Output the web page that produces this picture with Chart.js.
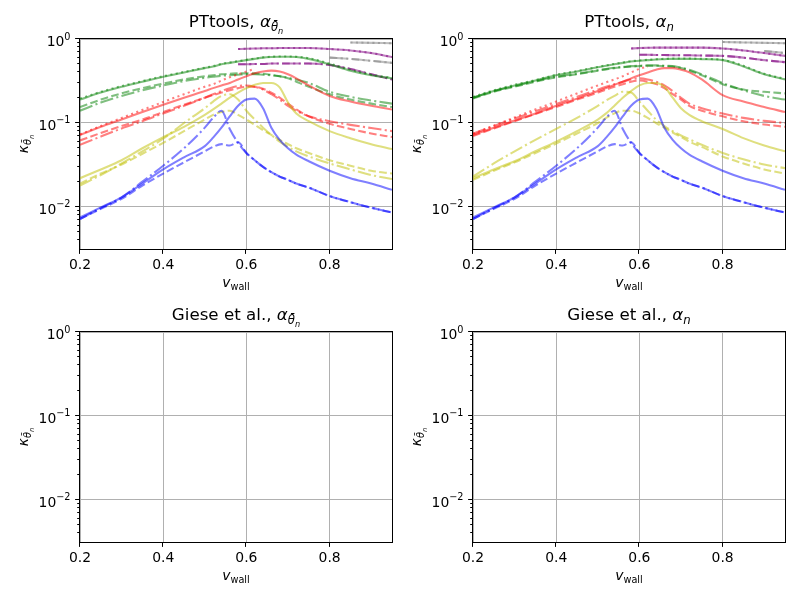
<!DOCTYPE html>
<html>
<head>
<meta charset="utf-8">
<script src="https://cdn.jsdelivr.net/npm/chart.js@4.4.0/dist/chart.umd.min.js"></script>
<style>
  body { margin: 0; background: #fff; width: 800px; height: 600px; overflow: hidden; position: relative; }
  canvas { position: absolute; }
</style>
</head>
<body>
<canvas id="tl" width="400" height="300" style="left:0;top:0"></canvas>
<canvas id="tr" width="400" height="300" style="left:400px;top:0"></canvas>
<canvas id="bl" width="400" height="300" style="left:0;top:300px"></canvas>
<canvas id="br" width="400" height="300" style="left:400px;top:300px"></canvas>
<script>
// ---- data ----
const V_WALL = [0.2,0.25,0.3,0.35,0.4,0.45,0.5,0.52,0.54,0.56,0.58,0.6,0.62,0.64,0.66,0.68,0.7,0.72,0.75,0.8,0.85,0.9,0.95];
const X_TICKS = [0.2, 0.4, 0.6, 0.8];
const Y_MAJOR = [0.01, 0.1, 1];
const Y_MINOR = [0.004,0.005,0.006,0.007,0.008,0.009,0.02,0.03,0.04,0.05,0.06,0.07,0.08,0.09,0.2,0.3,0.4,0.5,0.6,0.7,0.8,0.9];
const N = null;

// PTtools, alpha_thetabar_n
const blueSolidT   = [0.0075,0.0099,0.013,0.019,0.028,0.039,0.053,0.067,0.088,0.12,0.16,0.19,0.195,0.15,0.088,0.063,0.05,0.042,0.035,0.027,0.022,0.019,0.016];
const blueDashT    = [0.0072,0.0095,0.0125,0.018,0.025,0.034,0.046,0.052,0.056,0.054,0.059,0.044,0.036,0.03,0.026,0.023,0.021,0.019,0.017,0.0135,0.0114,0.0098,0.0086];
const blueDashDotT = [0.0072,0.0097,0.013,0.02,0.031,0.05,0.088,0.115,0.14,0.085,0.058,0.044,0.036,0.03,0.026,0.023,0.021,0.019,0.017,0.0135,0.0114,0.0098,0.0086];
const yelSolidT    = [0.022,0.028,0.036,0.05,0.068,0.09,0.125,0.145,0.17,0.2,0.23,0.26,0.285,0.3,0.3,0.265,0.175,0.13,0.105,0.08,0.066,0.056,0.049];
const yelDashT     = [0.019,0.025,0.032,0.043,0.058,0.08,0.11,0.125,0.135,0.14,0.125,0.11,0.095,0.082,0.072,0.063,0.056,0.05,0.044,0.036,0.031,0.027,0.025];
const yelDashDotT  = [0.018,0.024,0.033,0.046,0.065,0.1,0.15,0.18,0.21,0.22,0.19,0.14,0.11,0.088,0.072,0.06,0.052,0.046,0.04,0.033,0.028,0.024,0.0215];
const redSolidT    = [0.072,0.09,0.11,0.135,0.165,0.2,0.24,0.26,0.28,0.3,0.33,0.36,0.39,0.41,0.42,0.41,0.38,0.34,0.28,0.21,0.18,0.16,0.145];
const redDotT      = [0.073,0.092,0.115,0.143,0.178,0.22,0.27,0.29,0.32,0.35,0.38,0.41,0.44,N,N,N,N,N,N,N,N,N,N];
const redDashT     = [0.062,0.076,0.092,0.11,0.135,0.165,0.2,0.215,0.23,0.245,0.26,0.27,0.27,0.255,0.23,0.2,0.17,0.145,0.12,0.098,0.085,0.075,0.068];
const redDashDotT  = [0.055,0.069,0.086,0.105,0.13,0.16,0.2,0.22,0.24,0.26,0.275,0.28,0.27,0.25,0.22,0.19,0.16,0.14,0.12,0.105,0.095,0.087,0.08];
const grnSolidT    = [0.19,0.23,0.27,0.31,0.355,0.4,0.45,0.47,0.5,0.52,0.54,0.56,0.58,0.6,0.61,0.615,0.615,0.61,0.58,0.5,0.42,0.37,0.34];
const grnDotT      = [0.195,0.235,0.275,0.315,0.36,0.405,0.455,0.475,0.505,0.525,0.545,0.565,0.585,0.605,0.615,0.62,0.62,0.615,0.59,0.51,0.43,0.375,0.345];
const grnDashT     = [0.155,0.19,0.225,0.26,0.295,0.33,0.36,0.37,0.38,0.385,0.39,0.39,0.39,0.385,0.375,0.36,0.34,0.31,0.27,0.22,0.19,0.17,0.155];
const grnDashDotT  = [0.14,0.175,0.21,0.245,0.28,0.315,0.345,0.355,0.365,0.37,0.375,0.38,0.38,0.375,0.37,0.36,0.345,0.33,0.3,0.235,0.205,0.185,0.17];
const purTopT      = [N,N,N,N,N,N,N,N,N,N,0.76,0.765,0.77,0.775,0.775,0.78,0.78,0.78,0.78,0.76,0.73,0.68,0.61];
const purLowT      = [N,N,N,N,N,N,N,N,N,N,0.5,0.5,0.505,0.505,0.51,0.51,0.51,0.51,0.51,0.49,0.44,0.38,0.33];
const gryTopT      = [N,N,N,N,N,N,N,N,N,N,N,N,N,N,N,N,N,N,N,N,0.91,0.9,0.89];
const gryLowT      = [N,N,N,N,N,N,N,N,N,N,N,N,N,N,N,N,N,N,N,0.6,0.58,0.55,0.52];

// PTtools, alpha_n
const blueSolidN   = [0.0075,0.0099,0.013,0.019,0.028,0.039,0.053,0.067,0.088,0.12,0.16,0.19,0.195,0.15,0.088,0.063,0.05,0.042,0.035,0.027,0.022,0.019,0.016];
const blueDashN    = [0.0072,0.0095,0.0125,0.018,0.025,0.034,0.046,0.052,0.056,0.054,0.059,0.044,0.036,0.03,0.026,0.023,0.021,0.019,0.017,0.0135,0.0114,0.0098,0.0086];
const blueDashDotN = [0.0072,0.0097,0.013,0.02,0.031,0.05,0.088,0.115,0.14,0.085,0.058,0.044,0.036,0.03,0.026,0.023,0.021,0.019,0.017,0.0135,0.0114,0.0098,0.0086];
const yelSolidN    = [0.022,0.028,0.035,0.046,0.06,0.08,0.11,0.13,0.16,0.2,0.24,0.28,0.3,0.3,0.27,0.2,0.15,0.125,0.105,0.085,0.066,0.054,0.046];
const yelDashN     = [0.021,0.027,0.034,0.044,0.057,0.075,0.1,0.115,0.13,0.14,0.14,0.13,0.115,0.1,0.088,0.077,0.068,0.06,0.052,0.04,0.033,0.028,0.025];
const yelDashDotN  = [0.023,0.033,0.046,0.063,0.085,0.115,0.16,0.185,0.21,0.235,0.23,0.18,0.14,0.11,0.092,0.08,0.071,0.064,0.055,0.044,0.037,0.032,0.029];
const redSolidN    = [0.072,0.088,0.107,0.13,0.16,0.195,0.24,0.26,0.285,0.31,0.34,0.37,0.4,0.43,0.45,0.45,0.43,0.4,0.33,0.215,0.18,0.155,0.135];
const redDotN      = [0.074,0.093,0.116,0.145,0.18,0.225,0.28,0.305,0.33,0.36,0.4,0.44,0.47,N,N,N,N,N,N,N,N,N,N];
const redDashN     = [0.07,0.086,0.105,0.128,0.155,0.19,0.23,0.25,0.27,0.29,0.31,0.32,0.31,0.29,0.26,0.22,0.19,0.16,0.14,0.12,0.105,0.096,0.09];
const redDashDotN  = [0.075,0.092,0.113,0.138,0.168,0.205,0.25,0.27,0.29,0.31,0.33,0.34,0.33,0.31,0.28,0.24,0.2,0.17,0.15,0.13,0.115,0.106,0.1];
const grnSolidN    = [0.2,0.24,0.28,0.32,0.37,0.41,0.46,0.48,0.5,0.52,0.54,0.55,0.56,0.57,0.575,0.58,0.58,0.58,0.575,0.56,0.47,0.38,0.33];
const grnDotN      = [0.205,0.245,0.285,0.325,0.375,0.415,0.465,0.485,0.505,0.525,0.545,0.555,0.565,0.575,0.58,0.585,0.585,0.585,0.58,0.565,0.48,0.385,0.335];
const grnDashN     = [0.195,0.235,0.27,0.31,0.35,0.38,0.42,0.435,0.45,0.46,0.47,0.475,0.48,0.48,0.475,0.47,0.45,0.42,0.37,0.29,0.25,0.235,0.225];
const grnDashDotN  = [0.2,0.24,0.275,0.315,0.355,0.385,0.425,0.44,0.455,0.465,0.475,0.48,0.485,0.485,0.48,0.475,0.455,0.43,0.38,0.3,0.245,0.21,0.19];
const purTopN      = [N,N,N,N,N,N,N,N,N,N,0.77,0.78,0.785,0.79,0.79,0.79,0.79,0.79,0.79,0.77,0.73,0.68,0.63];
const purLowN      = [N,N,N,N,N,N,N,N,N,N,N,0.65,0.65,0.645,0.645,0.64,0.64,0.64,0.635,0.63,0.6,0.56,0.53];
const gryTopN      = [N,N,N,N,N,N,N,N,N,N,N,N,N,N,N,N,N,N,N,0.92,0.91,0.9,0.89];
const gryLowN      = [N,N,N,N,N,N,N,N,N,N,N,N,N,N,N,N,N,N,N,N,N,0.72,0.68];

// ---- styles ----
const COLORS = {
  b: 'rgba(0,0,255,0.5)', y: 'rgba(191,191,0,0.5)', r: 'rgba(255,0,0,0.5)',
  g: 'rgba(0,128,0,0.5)', m: 'rgba(128,0,128,0.5)', k: 'rgba(128,128,128,0.5)'
};
const DASHES = { '-': [], '--': [7.7, 3.3], '-.': [13.3, 3.3, 2.1, 3.3], ':': [2.1, 3.4] };

function line(values, c, ls) {
  return {
    data: V_WALL.map((x, i) => ({ x: x, y: values[i] })),
    borderColor: COLORS[c],
    borderWidth: 2.08,
    borderDash: DASHES[ls],
    borderCapStyle: 'butt',
    pointRadius: 0,
    fill: false,
    cubicInterpolationMode: 'monotone',
    spanGaps: false
  };
}

// ---- math-ish text helpers ----
function fontOf(r) { return (r.italic ? 'italic ' : '') + r.size + 'px "DejaVu Sans"'; }
function runsWidth(ctx, runs) {
  let w = 0;
  runs.forEach(r => { ctx.font = fontOf(r); w += ctx.measureText(r.text).width; });
  return w;
}
function drawRuns(ctx, runs, x, y, align) {
  const w = runsWidth(ctx, runs);
  let cx = align === 'center' ? x - w / 2 : align === 'right' ? x - w : x;
  ctx.textAlign = 'left';
  ctx.textBaseline = 'alphabetic';
  ctx.fillStyle = '#000';
  runs.forEach(r => {
    ctx.font = fontOf(r);
    ctx.fillText(r.text, cx, y + (r.dy || 0));
    cx += ctx.measureText(r.text).width;
  });
}

const THETA = '\u03b8\u0304';
function titleTheta(prefix) {
  return [{ text: prefix, size: 16.7 }, { text: 'α', size: 16.7, italic: true },
          { text: THETA, size: 11.7, italic: true, dy: 4 }, { text: 'n', size: 8.2, italic: true, dy: 7 }];
}
function titleN(prefix) {
  return [{ text: prefix, size: 16.7 }, { text: 'α', size: 16.7, italic: true },
          { text: 'n', size: 11.7, italic: true, dy: 4 }];
}
const Y_LABEL = [{ text: 'κ', size: 13.9, italic: true }, { text: THETA, size: 9.7, italic: true, dy: 3 },
                 { text: 'n', size: 6.8, italic: true, dy: 5.5 }];
const X_LABEL = [{ text: 'v', size: 13.9, italic: true }, { text: 'wall', size: 9.7, dy: 2.5 }];

const axesDecor = {
  id: 'axesDecor',
  afterDraw(chart, args, opts) {
    const ctx = chart.ctx;
    const a = chart.chartArea;
    const xs = chart.scales.x, ys = chart.scales.y;
    ctx.save();
    ctx.strokeStyle = '#000';
    ctx.lineWidth = 1;
    ctx.strokeRect(Math.round(a.left) - 0.5, Math.round(a.top) - 0.5,
                   Math.round(a.right - a.left) + 1, Math.round(a.bottom - a.top) + 1);
    ctx.beginPath();
    X_TICKS.forEach(v => {
      const px = Math.round(xs.getPixelForValue(v)) - 0.5;
      ctx.moveTo(px, a.bottom); ctx.lineTo(px, a.bottom + 4.9);
    });
    Y_MAJOR.forEach(v => {
      const py = Math.round(ys.getPixelForValue(v)) - 0.5;
      ctx.moveTo(a.left - 4.9, py); ctx.lineTo(a.left, py);
    });
    Y_MINOR.forEach(v => {
      const py = Math.round(ys.getPixelForValue(v)) - 0.5;
      ctx.moveTo(a.left - 2.8, py); ctx.lineTo(a.left, py);
    });
    ctx.stroke();

    X_TICKS.forEach(v => {
      drawRuns(ctx, [{ text: v.toFixed(1), size: 13.9 }], xs.getPixelForValue(v), a.bottom + 20, 'center');
    });
    Y_MAJOR.forEach(v => {
      const e = Math.round(Math.log10(v));
      const sup = e < 0 ? '\u2212' + (-e) : String(e);
      drawRuns(ctx, [{ text: '10', size: 13.9 }, { text: sup, size: 9.7, dy: -6.5 }],
               a.left - 9.5, ys.getPixelForValue(v) + 7, 'right');
    });

    const cx = (a.left + a.right) / 2, cy = (a.top + a.bottom) / 2;
    drawRuns(ctx, opts.title, cx, a.top - 12, 'center');
    drawRuns(ctx, X_LABEL, cx, a.bottom + 38, 'center');
    ctx.translate(a.left - 52, cy);
    ctx.rotate(-Math.PI / 2);
    drawRuns(ctx, Y_LABEL, 0, 0, 'center');
    ctx.restore();
  }
};

function makeChart(id, datasets, title, box) {
  return new Chart(document.getElementById(id), {
    type: 'line',
    data: { datasets: datasets },
    plugins: [axesDecor],
    options: {
      responsive: false,
      animation: false,
      devicePixelRatio: 1,
      layout: { padding: { top: box.top, right: box.right, left: 0, bottom: 0 } },
      plugins: { legend: { display: false }, tooltip: { enabled: false }, axesDecor: { title: title } },
      scales: {
        x: {
          type: 'linear', min: 0.2, max: 0.95,
          afterBuildTicks: s => { s.ticks = X_TICKS.map(v => ({ value: v })); },
          afterFit: s => { s.height = box.xh; },
          ticks: { display: false },
          grid: { color: '#b0b0b0', lineWidth: 1, drawTicks: false },
          border: { display: false }
        },
        y: {
          type: 'logarithmic', min: 0.00316, max: 1,
          afterBuildTicks: s => { s.ticks = Y_MAJOR.map(v => ({ value: v })); },
          afterFit: s => { s.width = box.yw; },
          ticks: { display: false },
          grid: { color: '#b0b0b0', lineWidth: 1, drawTicks: false },
          border: { display: false }
        }
      }
    }
  });
}

// purple and gray curves: two line styles lying on top of each other
const thetaSets = [
  line(blueSolidT, 'b', '-'), line(blueDashT, 'b', '--'), line(blueDashDotT, 'b', '-.'),
  line(yelSolidT, 'y', '-'), line(yelDashT, 'y', '--'), line(yelDashDotT, 'y', '-.'),
  line(redSolidT, 'r', '-'), line(redDotT, 'r', ':'), line(redDashT, 'r', '--'), line(redDashDotT, 'r', '-.'),
  line(grnSolidT, 'g', '-'), line(grnDotT, 'g', ':'), line(grnDashT, 'g', '--'), line(grnDashDotT, 'g', '-.'),
  line(purTopT, 'm', '-'), line(purTopT, 'm', ':'), line(purLowT, 'm', '--'), line(purLowT, 'm', '-.'),
  line(gryTopT, 'k', '-'), line(gryTopT, 'k', ':'), line(gryLowT, 'k', '--'), line(gryLowT, 'k', '-.')
];
const nSets = [
  line(blueSolidN, 'b', '-'), line(blueDashN, 'b', '--'), line(blueDashDotN, 'b', '-.'),
  line(yelSolidN, 'y', '-'), line(yelDashN, 'y', '--'), line(yelDashDotN, 'y', '-.'),
  line(redSolidN, 'r', '-'), line(redDotN, 'r', ':'), line(redDashN, 'r', '--'), line(redDashDotN, 'r', '-.'),
  line(grnSolidN, 'g', '-'), line(grnDotN, 'g', ':'), line(grnDashN, 'g', '--'), line(grnDashDotN, 'g', '-.'),
  line(purTopN, 'm', '-'), line(purTopN, 'm', ':'), line(purLowN, 'm', '--'), line(purLowN, 'm', '-.'),
  line(gryTopN, 'k', '-'), line(gryTopN, 'k', ':'), line(gryLowN, 'k', '--'), line(gryLowN, 'k', '-.')
];

makeChart('tl', thetaSets, titleTheta('PTtools, '), { top: 39, right: 8, xh: 51, yw: 80 });
makeChart('tr', nSets, titleN('PTtools, '), { top: 39, right: 15, xh: 51, yw: 73 });
makeChart('bl', [], titleTheta('Giese et al., '), { top: 32, right: 8, xh: 58, yw: 80 });
makeChart('br', [], titleN('Giese et al., '), { top: 32, right: 15, xh: 58, yw: 73 });
</script>
</body>
</html>
